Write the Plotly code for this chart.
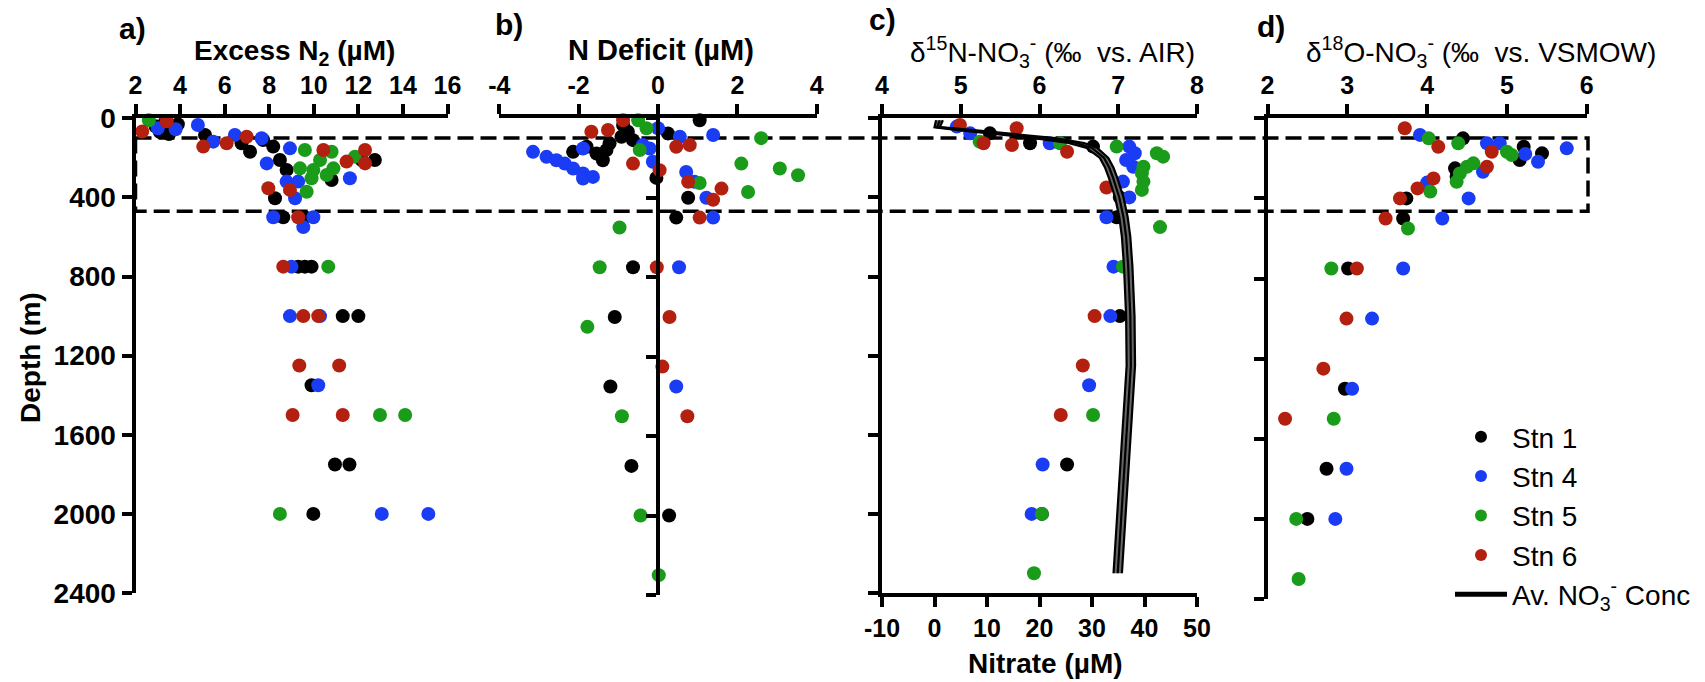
import plotly.graph_objects as go

W, H = 1705, 682

# ---------------- DATA ----------------
stations = ["Stn 1", "Stn 4", "Stn 5", "Stn 6"]
colors = ["#000000", "#1a3cf5", "#1a9c1a", "#b3200f"]

# Panel a: Excess N2 (uM)
a_s1_x = [2.9, 3.3, 3.6, 3.9, 3.1, 3.5, 5.12, 6.76, 7.14, 7.73, 8.18, 8.48, 8.78, 10.8, 12.15, 12.74, 8.26, 8.63, 9.6, 9.3, 9.6, 9.9, 11.3, 12.0, 9.9, 10.95, 11.6, 9.98]
a_s1_d = [40, 25, 50, 30, 70, 80, 84, 126, 169, 110, 143, 211, 261, 312, 211, 211, 404, 500, 500, 750, 750, 750, 1000, 1000, 1350, 1750, 1750, 2000]
a_s4_x = [3.0, 3.8, 4.8, 5.49, 6.46, 7.66, 7.89, 8.93, 8.78, 9.3, 9.16, 11.62, 8.18, 9.98, 9.53, 9.0, 8.93, 10.28, 10.2, 13.05, 15.14]
a_s4_d = [50, 55, 34, 118, 84, 101, 228, 152, 320, 320, 404, 303, 500, 500, 550, 750, 1000, 1000, 1350, 2000, 2000]
a_s5_x = [2.6, 9.6, 10.28, 10.8, 9.38, 9.98, 10.58, 10.88, 9.9, 11.85, 9.68, 10.65, 12.97, 14.1, 8.48]
a_s5_d = [10, 160, 211, 169, 253, 261, 287, 253, 303, 194, 371, 750, 1500, 1500, 2000]
a_s6_x = [2.3, 3.4, 5.04, 6.09, 6.99, 10.43, 11.47, 12.3, 12.3, 7.96, 8.93, 9.3, 8.63, 9.53, 10.2, 9.35, 11.14, 9.05, 11.3]
a_s6_d = [67, 15, 143, 126, 93, 160, 219, 160, 228, 354, 362, 500, 750, 1000, 1000, 1250, 1250, 1500, 1500]

# Panel b: N deficit (uM)
b_s1_x = [1.05, -0.88, -0.76, -0.92, -0.63, 0.25, -2.14, -1.8, -1.55, -1.39, -1.3, -1.22, -0.04, 0.76, 0.46, -0.63, -1.09, -1.2, -0.67, 0.28]
b_s1_d = [10, 34, 68, 93, 110, 76, 169, 143, 177, 211, 160, 126, 300, 400, 500, 750, 1000, 1350, 1750, 2000]
b_s4_x = [0.0, 0.55, 1.39, -3.15, -2.81, -2.56, -2.35, -2.14, -1.89, -1.64, -1.89, -1.89, -0.38, -0.21, -0.13, 0.71, 0.92, 1.22, 1.39, 0.53, 0.46]
b_s4_d = [50, 93, 84, 169, 194, 211, 228, 253, 278, 295, 303, 152, 135, 152, 219, 270, 320, 400, 500, 750, 1350]
b_s5_x = [-0.5, -0.29, 2.6, -0.46, 2.1, 3.07, 3.53, 2.27, 1.05, -0.97, -1.47, -1.78, -0.91, -0.44, 0.02]
b_s5_d = [10, 50, 100, 160, 228, 253, 287, 371, 326, 550, 750, 1050, 1500, 2000, 2300]
b_s6_x = [-0.88, -1.68, -1.26, 0.46, 0.8, -0.63, 0.04, 0.76, 1.6, 1.39, 1.05, -0.03, 0.29, 0.11, 0.74]
b_s6_d = [10, 68, 59, 143, 135, 228, 261, 320, 354, 410, 500, 750, 1000, 1250, 1500]

# Panel c: d15N-NO3 (permil vs AIR)
c_s1_x = [5.37, 5.88, 6.68, 7.02, 6.98, 7.02, 6.35, 6.03]
c_s1_d = [76, 126, 143, 400, 500, 1000, 1750, 2000]
c_s4_x = [4.95, 5.12, 6.13, 7.14, 7.21, 7.1, 7.19, 7.06, 7.14, 6.85, 6.94, 6.9, 6.63, 6.04, 5.9]
c_s4_d = [42, 76, 126, 143, 177, 211, 245, 320, 400, 500, 750, 1000, 1350, 1750, 2000]
c_s5_x = [5.24, 6.26, 6.98, 7.49, 7.57, 7.32, 7.3, 7.32, 7.3, 7.53, 7.06, 6.68, 6.03, 5.93]
c_s5_d = [118, 126, 143, 177, 194, 245, 278, 320, 362, 550, 750, 1500, 2000, 2300]
c_s6_x = [4.99, 5.71, 5.65, 5.29, 6.35, 6.85, 6.7, 6.55, 6.27]
c_s6_d = [34, 50, 135, 126, 169, 350, 1000, 1250, 1500]

# Panel c: average nitrate concentration profile (uM)
no3_depth = [10, 45, 60, 80, 100, 125, 150, 200, 250, 300, 400, 500, 600, 750, 1000, 1250, 1500, 1750, 2000, 2300]
no3_mean = [1.0, 0.5, 6.0, 14.0, 21.0, 27.0, 30.0, 32.3, 33.3, 34.0, 35.2, 36.0, 36.5, 36.9, 37.3, 37.4, 36.8, 36.2, 35.6, 34.9]
no3_lo = [0.3, 0.0, 4.5, 12.0, 19.0, 25.5, 29.0, 31.5, 32.5, 33.2, 34.4, 35.2, 35.7, 36.1, 36.5, 36.6, 36.0, 35.4, 34.8, 34.1]
no3_hi = [1.6, 1.0, 7.5, 16.0, 23.0, 28.5, 31.0, 33.1, 34.1, 34.8, 36.0, 36.8, 37.3, 37.7, 38.1, 38.2, 37.6, 37.0, 36.4, 35.7]

# Panel d: d18O-NO3 (permil vs VSMOW)
d_s1_x = [4.45, 5.21, 5.44, 5.16, 4.35, 4.37, 3.74, 3.7, 3.01, 2.97, 2.74, 2.5]
d_s1_d = [100, 142, 175, 208, 250, 292, 400, 500, 750, 1350, 1750, 2000]
d_s4_x = [3.91, 4.75, 4.91, 5.75, 5.23, 5.39, 4.7, 4.0, 4.52, 4.19, 3.7, 3.31, 3.06, 2.99, 2.85]
d_s4_d = [83, 125, 125, 150, 178, 217, 267, 321, 400, 500, 750, 1000, 1350, 1750, 2000]
d_s5_x = [4.02, 4.39, 5.0, 5.06, 4.58, 4.5, 4.41, 4.37, 4.04, 3.76, 2.8, 2.83, 2.36, 2.39]
d_s5_d = [100, 125, 167, 183, 225, 242, 275, 317, 366, 550, 750, 1500, 2000, 2300]
d_s6_x = [3.72, 4.14, 4.81, 4.75, 4.08, 3.88, 3.66, 3.48, 3.12, 2.99, 2.7, 2.22]
d_s6_d = [50, 142, 167, 242, 300, 350, 400, 500, 750, 1000, 1250, 1500]

depth_ticks = [0, 400, 800, 1200, 1600, 2000, 2400]
a_ticks = [2, 4, 6, 8, 10, 12, 14, 16]
b_ticks = [-4, -2, 0, 2, 4]
b_ticktext = ["-4", "-2", "0", "2", "4"]
c_ticks = [4, 5, 6, 7, 8]
no3_ticks = [-10, 0, 10, 20, 30, 40, 50]
no3_ticktext = ["-10", "0", "10", "20", "30", "40", "50"]
d_ticks = [2, 3, 4, 5, 6]

# ---------------- FIGURE ----------------
def px(x):
    return x / W

def py(y):
    return 1 - y / H

FONT = "Liberation Sans, Arial, sans-serif"
fig = go.Figure()

panels = [
    ("x", "y", [a_s1_x, a_s4_x, a_s5_x, a_s6_x], [a_s1_d, a_s4_d, a_s5_d, a_s6_d]),
    ("x2", "y2", [b_s1_x, b_s4_x, b_s5_x, b_s6_x], [b_s1_d, b_s4_d, b_s5_d, b_s6_d]),
    ("x3", "y3", [c_s1_x, c_s4_x, c_s5_x, c_s6_x], [c_s1_d, c_s4_d, c_s5_d, c_s6_d]),
    ("x5", "y4", [d_s1_x, d_s4_x, d_s5_x, d_s6_x], [d_s1_d, d_s4_d, d_s5_d, d_s6_d]),
]

# nitrate bundle (panel c, bottom axis)
fig.add_trace(go.Scatter(x=no3_lo, y=no3_depth, xaxis="x4", yaxis="y3", mode="lines",
                         line=dict(color="black", width=2.2), showlegend=False, hoverinfo="skip"))
fig.add_trace(go.Scatter(x=no3_hi, y=no3_depth, xaxis="x4", yaxis="y3", mode="lines",
                         line=dict(color="black", width=2.2), fill="tonextx", fillcolor="#666666",
                         showlegend=False, hoverinfo="skip"))
fig.add_trace(go.Scatter(x=no3_mean, y=no3_depth, xaxis="x4", yaxis="y3", mode="lines",
                         line=dict(color="black", width=2.2), name="Av. NO<sub>3</sub><sup>-</sup> Conc",
                         legendrank=5, showlegend=True))

for pi, (xa, ya, xs, ds) in enumerate(panels):
    for si in range(4):
        fig.add_trace(go.Scatter(
            x=xs[si], y=ds[si], xaxis=xa, yaxis=ya, mode="markers",
            marker=dict(color=colors[si], size=14, line=dict(width=0)),
            name=stations[si], legendgroup=stations[si], legendrank=si + 1,
            showlegend=(pi == 0), cliponaxis=False))

base = dict(showline=True, linewidth=4, linecolor="black", ticks="outside", ticklen=10,
            tickwidth=4, tickcolor="black", showgrid=False, zeroline=False, automargin=False,
            tickfont=dict(family=FONT, size=25, color="black", weight="bold"))

ytop, ybot = 118.3, 593
ydom = [py(ybot), py(ytop)]
ybase = dict(base, range=[2400, 0], tickvals=depth_ticks)

fig.update_layout(
    template="none",
    xaxis=dict(base, domain=[px(135.5), px(447.5)], range=[2, 16], tickvals=a_ticks, side="top", anchor="y"),
    yaxis=dict(ybase, domain=ydom, anchor="x",
               tickfont=dict(family=FONT, size=28, color="black", weight="bold")),
    xaxis2=dict(base, domain=[px(499.3), px(816.7)], range=[-4, 4], tickvals=b_ticks, ticktext=b_ticktext,
                side="top", anchor="y2"),
    yaxis2=dict(ybase, domain=[py(595), py(ytop)], anchor="free", position=px(658.3), showticklabels=False),
    xaxis3=dict(base, domain=[px(882), px(1197)], range=[4, 8], tickvals=c_ticks, side="top", anchor="y3"),
    xaxis4=dict(base, domain=[px(882), px(1197)], range=[-10, 50], tickvals=no3_ticks, ticktext=no3_ticktext,
                side="bottom", anchor="y3", overlaying="x3"),
    yaxis3=dict(ybase, domain=ydom, anchor="x3", showticklabels=False),
    xaxis5=dict(base, domain=[px(1267.5), px(1586.7)], range=[2, 6], tickvals=d_ticks, side="top", anchor="y4"),
    yaxis4=dict(ybase, domain=[py(599), py(ytop)], anchor="x5", showticklabels=False),
)

# dashed box marking 100-470 m
fig.add_shape(type="rect", xref="paper", yref="y", x0=px(135.5), x1=px(1588), y0=100, y1=470,
              line=dict(color="black", width=3.5, dash="16px,7px"), layer="below")

ann = []
def add_text(text, x, y, size, bold=True, angle=0):
    ann.append(dict(text=text, x=px(x), y=py(y), xref="paper", yref="paper", showarrow=False,
                    xanchor="center", yanchor="middle", textangle=angle,
                    font=dict(family=FONT, size=size, color="black", weight="bold" if bold else "normal")))

add_text("a)", 132, 29, 30)
add_text("b)", 509, 25, 30)
add_text("c)", 882, 20, 30)
add_text("d)", 1271, 27, 30)
add_text("Excess N<sub>2</sub> (µM)", 294, 52, 28)
add_text("N Deficit (µM)", 661, 50, 29)
add_text("δ<sup>15</sup>N-NO<sub>3</sub><sup>-</sup> (‰&nbsp; vs. AIR)", 1052, 52, 28, bold=False)
add_text("δ<sup>18</sup>O-NO<sub>3</sub><sup>-</sup> (‰&nbsp; vs. VSMOW)", 1481, 52, 28, bold=False)
add_text("Nitrate (µM)", 1045, 663, 28)
add_text("Depth (m)", 30, 358, 28, angle=-90)

fig.update_layout(
    width=W, height=H, autosize=False,
    margin=dict(l=0, r=0, t=0, b=0, pad=0),
    paper_bgcolor="white", plot_bgcolor="rgba(0,0,0,0)",
    annotations=ann,
    showlegend=True,
    legend=dict(x=px(1450), y=py(412), xanchor="left", yanchor="top",
                font=dict(family=FONT, size=28, color="black"),
                bgcolor="rgba(0,0,0,0)", borderwidth=0, tracegroupgap=0, itemsizing="constant",
                itemwidth=52),
)

fig.write_html("out.html", config={"displayModeBar": False},
               post_script="document.body.style.margin='0';document.body.style.overflow='hidden';")
